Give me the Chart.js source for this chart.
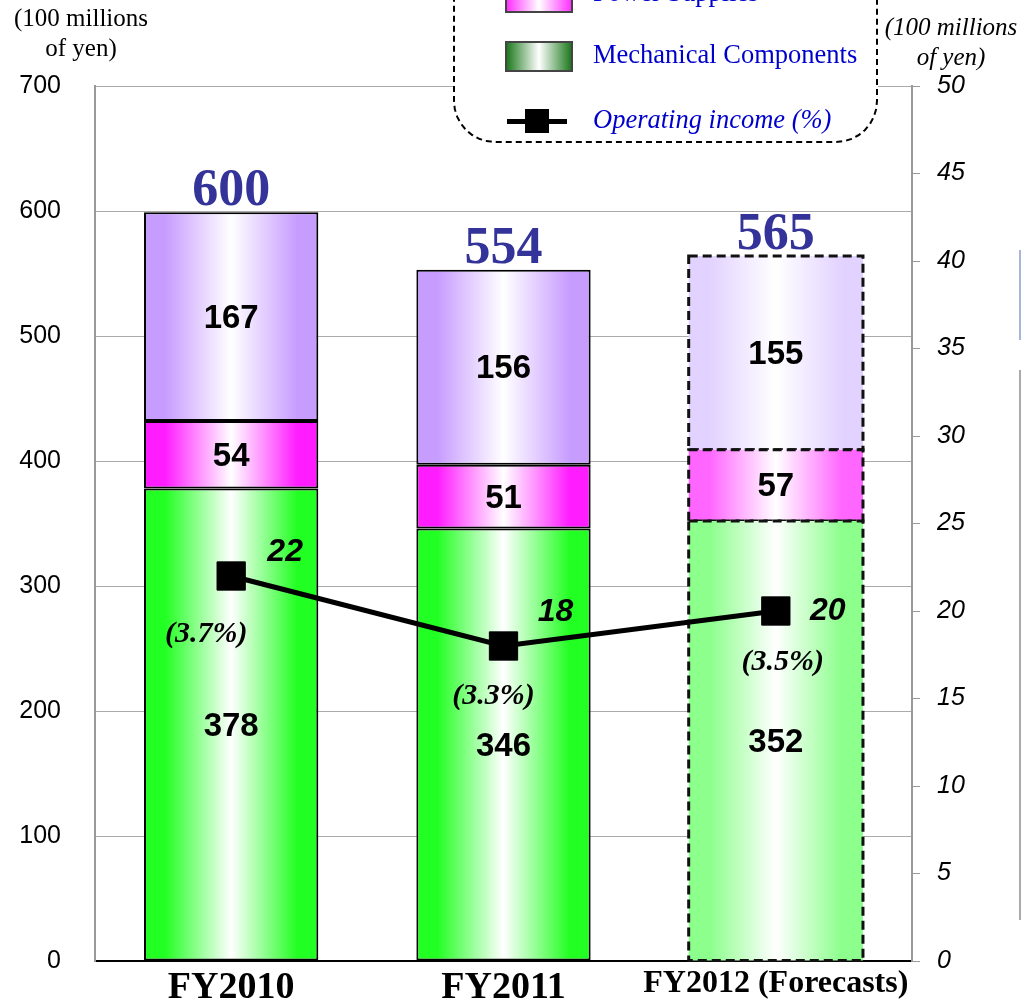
<!DOCTYPE html>
<html>
<head>
<meta charset="utf-8">
<script src="https://cdn.jsdelivr.net/npm/chart.js@4"></script>
<style>
  body { margin: 0; background: #fff; }
  #wrap { position: relative; width: 1021px; height: 1005px; overflow: hidden; background: #fff; }
  #chart { position: absolute; left: 0; top: 0; }
  .unit { position: absolute; font-family: "Liberation Serif", serif; font-size: 25px; line-height: 30px; color: #000; text-align: center; }
  #legendBox { position: absolute; left: 453px; top: -120px; width: 421px; height: 259px;
    border: 2px dashed #000; border-radius: 0 0 42px 42px; background: #fff; }
  .lgItem { position: absolute; left: 50px; height: 32px; }
  .lgSwatch { position: absolute; left: 0; top: 0; width: 64px; height: 27px; border: 2px solid #444; }
  .lgText { position: absolute; left: 138px; top: 0; white-space: nowrap; font-family: "Liberation Serif", serif;
    font-size: 26.5px; line-height: 31px; color: #0000cc; }
  .edge { position: absolute; width: 2px; }
</style>
</head>
<body>
<div id="wrap">
  <canvas id="chart" width="1021" height="1005"></canvas>
  <div class="unit" style="left:0px; top:3px; width:162px;">(100 millions<br>of yen)</div>
  <div class="unit" style="left:876px; top:12px; width:150px; font-style:italic;">(100 millions<br>of yen)</div>
  <div id="legendBox">
    <div class="lgItem" style="top:100px;">
      <div class="lgSwatch" style="background:linear-gradient(to right,#ff33ff,#ffffff 50%,#ff33ff);"></div>
      <div class="lgText" style="left:88px; top:-5px;">Power Supplies</div>
    </div>
    <div class="lgItem" style="top:159px;">
      <div class="lgSwatch" style="background:linear-gradient(to right,#1f7a1f,#ffffff 50%,#1f7a1f);"></div>
      <div class="lgText" style="left:88px; top:-2px;">Mechanical Components</div>
    </div>
    <div class="lgItem" style="top:224px;">
      <div style="position:absolute; left:2px; top:13px; width:60px; height:5px; background:#000;"></div>
      <div style="position:absolute; left:20px; top:3px; width:24px; height:24px; background:#000;"></div>
      <div class="lgText" style="left:88px; top:-2px; font-style:italic;">Operating income (%)</div>
    </div>
  </div>
  <div class="edge" style="left:1019px; top:250px; height:90px; background:#a8b4d8;"></div>
  <div class="edge" style="left:1019px; top:370px; height:550px; background:#aaaaaa;"></div>
</div>
<script>
const categories = ['FY2010', 'FY2011', 'FY2012 (Forecasts)'];
const mechanical = [378, 346, 352];
const powerSupplies = [54, 51, 57];
const connectors = [167, 156, 155];
const totals = [600, 554, 565];
const opIncome = [22, 18, 20];
const opMargin = ['(3.7%)', '(3.3%)', '(3.5%)'];
const forecastIndex = 2;

const BAR_PCT = 0.64;

// horizontal "cylinder" gradient for each bar
function barFill(edge, edgeLight) {
  return function(ctx) {
    const chart = ctx.chart;
    const xs = chart.scales.x;
    const col = ctx.dataIndex === forecastIndex ? edgeLight : edge;
    if (!xs || !chart.chartArea) return col;
    const cx = xs.getPixelForValue(ctx.dataIndex);
    const half = xs.width / categories.length * BAR_PCT / 2;
    const g = chart.ctx.createLinearGradient(cx - half, 0, cx + half, 0);
    g.addColorStop(0, col);
    g.addColorStop(0.12, col);
    g.addColorStop(0.5, '#ffffff');
    g.addColorStop(0.88, col);
    g.addColorStop(1, col);
    return g;
  };
}

function barBorder(ctx) {
  return ctx.dataIndex === forecastIndex ? 0 : 2;
}

// dashed outline of the forecast bar
const forecastOutline = {
  id: 'forecastOutline',
  afterDatasetDraw(chart, args) {
    if (chart.data.datasets[args.index].type === 'line') return;
    const el = args.meta.data[forecastIndex];
    if (!el) return;
    const p = el.getProps(['x', 'y', 'base', 'width'], true);
    const c = chart.ctx;
    c.save();
    c.strokeStyle = '#111';
    c.lineWidth = 3;
    c.setLineDash([9, 5]);
    c.strokeRect(p.x - p.width / 2, Math.min(p.y, p.base), p.width, Math.abs(p.base - p.y));
    c.restore();
  }
};

// numbers inside the bars, totals on top, labels around the line points
const labelsPlugin = {
  id: 'labelsPlugin',
  afterDatasetsDraw(chart) {
    const c = chart.ctx;
    c.save();
    c.textAlign = 'center';
    c.textBaseline = 'middle';
    chart.data.datasets.forEach((ds, i) => {
      if (ds.type === 'line') return;
      chart.getDatasetMeta(i).data.forEach((el, j) => {
        const p = el.getProps(['x', 'y', 'base'], true);
        c.fillStyle = '#000';
        c.font = 'bold 33px "Liberation Sans"';
        c.fillText(String(ds.data[j]), p.x, (p.y + p.base) / 2 + 2);
      });
    });
    // totals
    const topMeta = chart.getDatasetMeta(3);
    c.fillStyle = '#333399';
    c.font = 'bold 52px "Liberation Serif"';
    c.textBaseline = 'alphabetic';
    topMeta.data.forEach((el, j) => {
      c.fillText(String(totals[j]), el.x, el.y - 7);
    });
    // operating income labels
    const lineMeta = chart.getDatasetMeta(0);
    const valOff = [[54, -24], [52, -34], [52, 0]];
    const pctOff = [[-25, 58], [-10, 50], [7, 51]];
    c.textBaseline = 'middle';
    c.fillStyle = '#000';
    lineMeta.data.forEach((el, j) => {
      c.font = 'italic bold 32px "Liberation Sans"';
      c.fillText(String(opIncome[j]), el.x + valOff[j][0], el.y + valOff[j][1]);
      c.font = 'italic bold 30px "Liberation Serif"';
      c.fillText(opMargin[j], el.x + pctOff[j][0], el.y + pctOff[j][1]);
    });
    c.restore();
  }
};

new Chart(document.getElementById('chart'), {
  data: {
    labels: categories,
    datasets: [
      {
        type: 'line',
        label: 'Operating income (%)',
        data: opIncome,
        yAxisID: 'y2',
        order: 0,
        borderColor: '#000',
        borderWidth: 5,
        pointStyle: 'rect',
        pointRadius: 20,
        pointBackgroundColor: '#000',
        pointBorderColor: '#000',
        pointBorderWidth: 1,
        tension: 0
      },
      {
        type: 'bar',
        label: 'Mechanical Components',
        data: mechanical,
        order: 1,
        stack: 'sales',
        backgroundColor: barFill('#22ff22', '#8cff8c'),
        borderColor: '#000',
        borderWidth: barBorder,
        borderSkipped: false
      },
      {
        type: 'bar',
        label: 'Power Supplies',
        data: powerSupplies,
        order: 1,
        stack: 'sales',
        backgroundColor: barFill('#ff1cff', '#ff66ff'),
        borderColor: '#000',
        borderWidth: barBorder,
        borderSkipped: false
      },
      {
        type: 'bar',
        label: 'Connectors',
        data: connectors,
        order: 1,
        stack: 'sales',
        backgroundColor: barFill('#c79cff', '#e2d2ff'),
        borderColor: '#000',
        borderWidth: barBorder,
        borderSkipped: false
      }
    ]
  },
  options: {
    responsive: false,
    animation: false,
    layout: { padding: { top: 86, left: 0, right: 0, bottom: 0 } },
    datasets: { bar: { barPercentage: BAR_PCT, categoryPercentage: 1 } },
    plugins: { legend: { display: false }, tooltip: { enabled: false } },
    scales: {
      x: {
        stacked: true,
        grid: { display: false, drawTicks: false },
        border: { display: true, color: '#000', width: 2 },
        ticks: {
          padding: 4,
          color: '#000',
          font: (ctx) => ({
            family: 'Liberation Serif',
            weight: 'bold',
            size: ctx.index === forecastIndex ? 32 : 38
          })
        },
        afterFit: (s) => { s.height = 44; }
      },
      y: {
        stacked: true,
        position: 'left',
        min: 0,
        max: 700,
        grid: { color: '#aaaaaa', lineWidth: 1, drawTicks: true, tickLength: 34, tickColor: 'rgba(0,0,0,0)' },
        border: { display: true, color: '#999999', width: 2 },
        ticks: {
          stepSize: 100,
          padding: 0,
          color: '#000',
          font: { family: 'Liberation Sans', size: 25 }
        },
        afterFit: (s) => { s.width = 95; }
      },
      y2: {
        position: 'right',
        min: 0,
        max: 50,
        grid: { drawOnChartArea: false, color: '#999999', tickLength: 8 },
        border: { display: true, color: '#999999', width: 2 },
        ticks: {
          stepSize: 5,
          padding: 17,
          color: '#000',
          font: { family: 'Liberation Sans', size: 25, style: 'italic' }
        },
        afterFit: (s) => { s.width = 109; }
      }
    }
  },
  plugins: [forecastOutline, labelsPlugin]
});
</script>
</body>
</html>
